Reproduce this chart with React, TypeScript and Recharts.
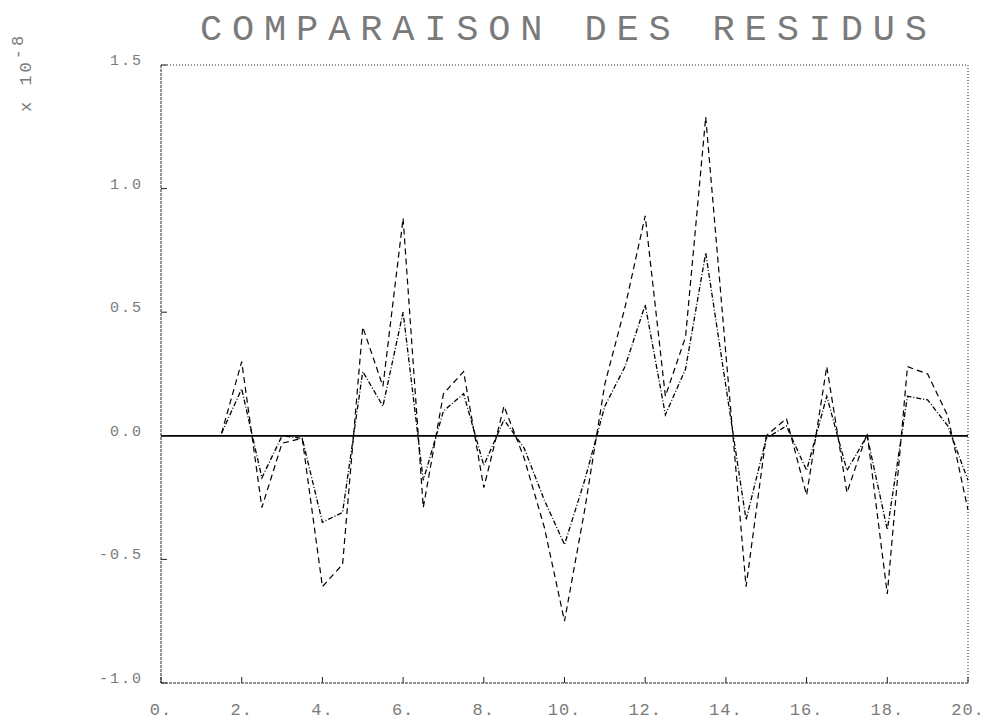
import { LineChart, Line, XAxis, YAxis, ReferenceLine } from 'recharts'

const abscisses = [
  1.5, 2, 2.5, 3, 3.5, 4, 4.5, 5, 5.5, 6, 6.5, 7, 7.5, 8, 8.5, 9, 9.5, 10, 10.5,
  11, 11.5, 12, 12.5, 13, 13.5, 14, 14.5, 15, 15.5, 16, 16.5, 17, 17.5, 18, 18.5, 19, 19.5, 20,
]

// residus, courbe a faible amplitude (trait mixte)
const residusA = [
  0.01, 0.19, -0.17, 0.0, -0.01, -0.35, -0.31, 0.26, 0.12, 0.5, -0.18, 0.1, 0.17, -0.12, 0.065, -0.05, -0.26, -0.44, -0.18,
  0.12, 0.28, 0.53, 0.085, 0.27, 0.74, 0.2, -0.34, -0.01, 0.04, -0.14, 0.16, -0.14, 0.0, -0.38, 0.16, 0.145, 0.04, -0.18,
]

// residus, courbe a forte amplitude (tirets)
const residusB = [
  0.01, 0.3, -0.29, -0.03, -0.01, -0.61, -0.52, 0.44, 0.2, 0.88, -0.29, 0.17, 0.26, -0.21, 0.12, -0.09, -0.37, -0.75, -0.3,
  0.21, 0.52, 0.89, 0.16, 0.4, 1.29, 0.33, -0.61, 0.0, 0.07, -0.24, 0.28, -0.23, 0.01, -0.64, 0.28, 0.25, 0.08, -0.3,
]

const xTicks = [0, 2, 4, 6, 8, 10, 12, 14, 16, 18, 20]
const yTicks = [-1.0, -0.5, 0.0, 0.5, 1.0, 1.5]

const titre = 'COMPARAISON DES RESIDUS'

const data = abscisses.map((x, i) => ({ x, a: residusA[i], b: residusB[i] }))

const FONT = '"Liberation Mono", "DejaVu Sans Mono", monospace'
const INK = '#7a7a7a'

function XTick({ x, y, payload }: any) {
  return (
    <text x={x} y={y} dy={14} textAnchor="middle" fill={INK} fontFamily={FONT} fontSize={17} letterSpacing={1}>
      {`${payload.value}.`}
    </text>
  )
}

function YTick({ x, y, payload }: any) {
  return (
    <text x={x} y={y} dy={0} textAnchor="end" fill={INK} fontFamily={FONT} fontSize={15} letterSpacing={2}>
      {Number(payload.value).toFixed(1)}
    </text>
  )
}

const frameLine = { stroke: '#222', strokeDasharray: '3 1' }
const dottedLine = { stroke: '#222', strokeDasharray: '1 2' }

export default function App() {
  return (
    <div style={{ position: 'absolute', left: 0, top: 0, width: 986, height: 721, background: '#fff' }}>
      <LineChart width={986} height={721} data={data} margin={{ top: 55, right: 8, bottom: 8, left: 101 }}>
        <XAxis
          xAxisId="bas"
          dataKey="x"
          type="number"
          domain={[0, 20]}
          ticks={xTicks}
          height={30}
          tickSize={-6}
          tickMargin={24}
          axisLine={frameLine}
          tickLine={{ stroke: '#222' }}
          tick={<XTick />}
        />
        <XAxis
          xAxisId="haut"
          orientation="top"
          dataKey="x"
          type="number"
          domain={[0, 20]}
          ticks={xTicks}
          height={10}
          tickSize={-6}
          axisLine={dottedLine}
          tickLine={{ stroke: '#222' }}
          tick={false}
        />
        <YAxis
          yAxisId="g"
          type="number"
          domain={[-1, 1.5]}
          ticks={yTicks}
          width={60}
          tickSize={-6}
          tickMargin={24}
          axisLine={frameLine}
          tickLine={{ stroke: '#222' }}
          tick={<YTick />}
        />
        <YAxis
          yAxisId="d"
          orientation="right"
          type="number"
          domain={[-1, 1.5]}
          ticks={yTicks}
          width={10}
          tickSize={-6}
          axisLine={dottedLine}
          tickLine={{ stroke: '#222' }}
          tick={false}
        />
        <ReferenceLine xAxisId="bas" yAxisId="g" y={0} stroke="#000" strokeWidth={1.8} />
        <Line
          xAxisId="bas"
          yAxisId="g"
          type="linear"
          dataKey="a"
          stroke="#000"
          strokeWidth={1.3}
          strokeDasharray="5 2 1 2"
          dot={false}
          isAnimationActive={false}
        />
        <Line
          xAxisId="bas"
          yAxisId="g"
          type="linear"
          dataKey="b"
          stroke="#000"
          strokeWidth={1.2}
          strokeDasharray="6 4"
          dot={false}
          isAnimationActive={false}
        />
      </LineChart>
      <svg width={986} height={721} style={{ position: 'absolute', left: 0, top: 0, pointerEvents: 'none' }}>
        <text x={200} y={40} fill={INK} fontFamily={FONT} fontSize={37} textLength={727} lengthAdjust="spacing">
          {titre}
        </text>
        <text transform="translate(31, 112) rotate(-90)" fill={INK} fontFamily={FONT} fontSize={17} letterSpacing={3}>
          x 10<tspan dy={-8}>-8</tspan>
        </text>
      </svg>
    </div>
  )
}
